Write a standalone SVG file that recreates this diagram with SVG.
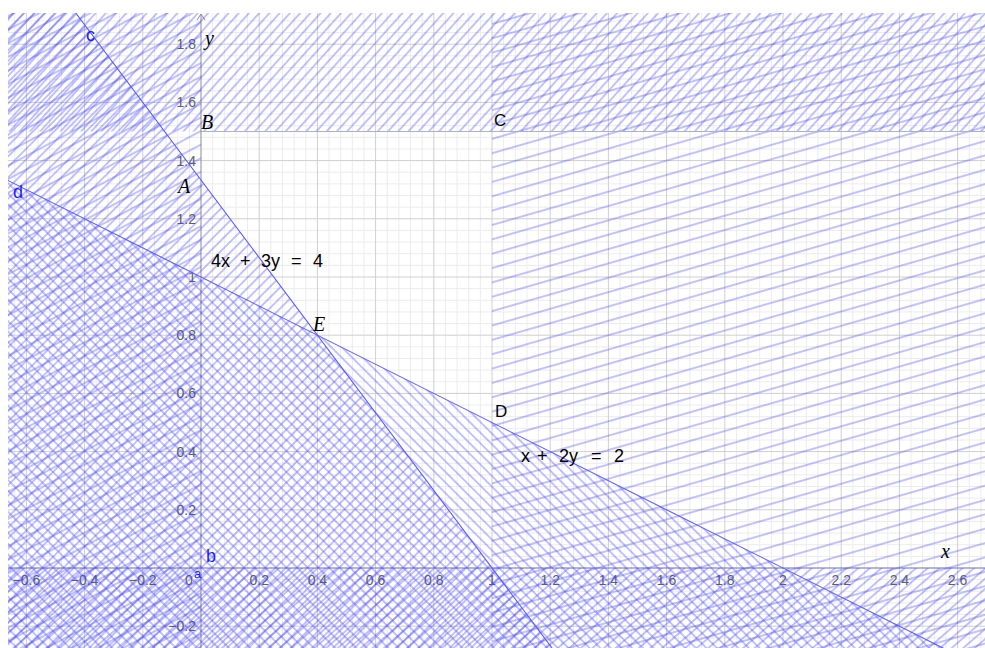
<svg xmlns="http://www.w3.org/2000/svg" width="985" height="648" viewBox="0 0 985 648">
<style>
.minor{stroke:#ececec;stroke-width:1;fill:none}
.major{stroke:#cfcfcf;stroke-width:1;fill:none}
.tick{font-family:"Liberation Sans",Arial,sans-serif;font-size:14px;fill:#606060}
.tickx{text-anchor:middle}
.ticky{text-anchor:end}
.hl{stroke:#4040ff;stroke-width:0.8;stroke-opacity:0.8}
.bline{stroke:#5a5aff;stroke-width:1.1;fill:none}
.pt{font-family:"Liberation Serif","Times New Roman",serif;font-style:italic;font-size:20px;fill:#000}
.ptu{font-family:"Liberation Sans",Arial,sans-serif;font-size:17px;fill:#000}
.lbl{font-family:"Liberation Sans",Arial,sans-serif;font-size:18px;fill:#1f1fff}
.eq{font-family:"Liberation Sans",Arial,sans-serif;font-size:18px;fill:#000}
</style>
<defs>
<clipPath id="view"><rect x="8" y="13" width="977" height="635"/></clipPath>
<pattern id="pTop" patternUnits="userSpaceOnUse" width="20" height="7.6" patternTransform="rotate(-48)"><line class="hl" x1="0" y1="3.8" x2="20" y2="3.8"/></pattern>
<pattern id="pC" patternUnits="userSpaceOnUse" width="20" height="7.5" patternTransform="rotate(-45)"><line class="hl" x1="0" y1="3.75" x2="20" y2="3.75"/></pattern>
<pattern id="pBot" patternUnits="userSpaceOnUse" width="20" height="7.6" patternTransform="rotate(-41)"><line class="hl" x1="0" y1="3.8" x2="20" y2="3.8"/></pattern>
<pattern id="pD" patternUnits="userSpaceOnUse" width="20" height="7.5" patternTransform="rotate(45)"><line class="hl" x1="0" y1="3.75" x2="20" y2="3.75"/></pattern>
<pattern id="pRight" patternUnits="userSpaceOnUse" width="40" height="13.8" patternTransform="rotate(-16)"><line class="hl" x1="0" y1="6.9" x2="40" y2="6.9"/></pattern>
<pattern id="pLeft" patternUnits="userSpaceOnUse" width="40" height="12" patternTransform="rotate(-28)"><line class="hl" x1="0" y1="6" x2="40" y2="6"/></pattern>
</defs>
<rect x="0" y="0" width="985" height="648" fill="#fff"/>
<g id="grid" clip-path="url(#view)">
<path class="minor" d="M14.76 13V648M38.04 13V648M49.68 13V648M61.32 13V648M72.96 13V648M96.24 13V648M107.88 13V648M119.52 13V648M131.16 13V648M154.44 13V648M166.08 13V648M177.72 13V648M189.36 13V648M212.64 13V648M224.28 13V648M235.92 13V648M247.56 13V648M270.84 13V648M282.48 13V648M294.12 13V648M305.76 13V648M329.04 13V648M340.68 13V648M352.32 13V648M363.96 13V648M387.24 13V648M398.88 13V648M410.52 13V648M422.16 13V648M445.44 13V648M457.08 13V648M468.72 13V648M480.36 13V648M503.64 13V648M515.28 13V648M526.92 13V648M538.56 13V648M561.84 13V648M573.48 13V648M585.12 13V648M596.76 13V648M620.04 13V648M631.68 13V648M643.32 13V648M654.96 13V648M678.24 13V648M689.88 13V648M701.52 13V648M713.16 13V648M736.44 13V648M748.08 13V648M759.72 13V648M771.36 13V648M794.64 13V648M806.28 13V648M817.92 13V648M829.56 13V648M852.84 13V648M864.48 13V648M876.12 13V648M887.76 13V648M911.04 13V648M922.68 13V648M934.32 13V648M945.96 13V648M969.24 13V648M980.88 13V648
M8 637.84H985M8 614.56H985M8 602.92H985M8 591.28H985M8 579.64H985M8 556.36H985M8 544.72H985M8 533.08H985M8 521.44H985M8 498.16H985M8 486.52H985M8 474.88H985M8 463.24H985M8 439.96H985M8 428.32H985M8 416.68H985M8 405.04H985M8 381.76H985M8 370.12H985M8 358.48H985M8 346.84H985M8 323.56H985M8 311.92H985M8 300.28H985M8 288.64H985M8 265.36H985M8 253.72H985M8 242.08H985M8 230.44H985M8 207.16H985M8 195.52H985M8 183.88H985M8 172.24H985M8 148.96H985M8 137.32H985M8 125.68H985M8 114.04H985M8 90.76H985M8 79.12H985M8 67.48H985M8 55.84H985M8 32.56H985M8 20.92H985"/>
<path class="major" d="M26.4 13V648M84.6 13V648M142.8 13V648M259.2 13V648M317.4 13V648M375.6 13V648M433.8 13V648M492 13V648M550.2 13V648M608.4 13V648M666.6 13V648M724.8 13V648M783 13V648M841.2 13V648M899.4 13V648M957.6 13V648
M8 626.2H985M8 509.8H985M8 451.6H985M8 393.4H985M8 335.2H985M8 277H985M8 218.8H985M8 160.6H985M8 102.4H985M8 44.2H985"/>
</g>
<g id="axes">
<line x1="201" y1="14" x2="201" y2="648" stroke="#8a8a9e" stroke-width="1"/>
<polyline points="197,20 201,14 205,20" fill="none" stroke="#8a8a9e" stroke-width="1"/>
<line x1="8" y1="568" x2="985" y2="568" stroke="#6c6cb4" stroke-width="1.2"/>
</g>
<g id="ticklabels" class="tick">
<text class="tickx" x="26.4" y="585">−0.6</text>
<text class="tickx" x="84.6" y="585">−0.4</text>
<text class="tickx" x="142.8" y="585">−0.2</text>
<text class="tickx" x="189" y="585">0</text>
<text class="tickx" x="259.2" y="585">0.2</text>
<text class="tickx" x="317.4" y="585">0.4</text>
<text class="tickx" x="375.6" y="585">0.6</text>
<text class="tickx" x="433.8" y="585">0.8</text>
<text class="tickx" x="492" y="585">1</text>
<text class="tickx" x="550.2" y="585">1.2</text>
<text class="tickx" x="608.4" y="585">1.4</text>
<text class="tickx" x="666.6" y="585">1.6</text>
<text class="tickx" x="724.8" y="585">1.8</text>
<text class="tickx" x="783" y="585">2</text>
<text class="tickx" x="841.2" y="585">2.2</text>
<text class="tickx" x="899.4" y="585">2.4</text>
<text class="tickx" x="957.6" y="585">2.6</text>
<text class="ticky" x="196" y="49.2">1.8</text>
<text class="ticky" x="196" y="107.4">1.6</text>
<text class="ticky" x="196" y="165.6">1.4</text>
<text class="ticky" x="196" y="223.8">1.2</text>
<text class="ticky" x="196" y="282">1</text>
<text class="ticky" x="196" y="340.2">0.8</text>
<text class="ticky" x="196" y="398.4">0.6</text>
<text class="ticky" x="196" y="456.6">0.4</text>
<text class="ticky" x="196" y="514.8">0.2</text>
<text class="ticky" x="196" y="631.2">−0.2</text>
</g>
<g id="hatching" clip-path="url(#view)">
<rect id="region-left" x="0" y="0" width="201" height="648" fill="url(#pLeft)"/>
<rect id="region-top" x="0" y="0" width="985" height="131.5" fill="url(#pTop)"/>
<rect id="region-right" x="492" y="0" width="493" height="648" fill="url(#pRight)"/>
<rect id="region-bottom" x="0" y="568" width="985" height="80" fill="url(#pBot)"/>
<polygon id="region-c" points="0,-88 985,1225.3 0,1225.3" fill="url(#pC)"/>
<polygon id="region-d" points="0,176.5 985,669 0,669" fill="url(#pD)"/>
</g>
<g id="connectors" clip-path="url(#view)">
<line id="line-c" class="bline" x1="0" y1="-88" x2="985" y2="1225.3"/>
<line id="line-d" class="bline" x1="0" y1="176.5" x2="985" y2="669"/>
<line id="line-top" x1="201" y1="131.5" x2="985" y2="131.5" stroke="#a8a8ff" stroke-width="1.2"/>
</g>
<g id="line-labels" class="lbl">
<text x="86" y="41">c</text>
<text x="13" y="198">d</text>
<text x="206" y="562">b</text>
<text x="194" y="578" font-size="13">a</text>
</g>
<g id="point-B"><text class="pt" x="201" y="129">B</text></g>
<g id="point-C"><text class="ptu" x="494" y="126">C</text></g>
<g id="point-A"><text class="pt" x="178" y="193">A</text></g>
<g id="point-E"><text class="pt" x="313" y="331">E</text></g>
<g id="point-D"><text class="ptu" x="495" y="417">D</text></g>
<g id="axis-labels">
<text class="pt" x="205" y="45">y</text>
<text class="pt" x="941" y="558">x</text>
</g>
<g id="equations" class="eq">
<text y="267"><tspan x="211">4x</tspan><tspan x="240">+</tspan><tspan x="261">3y</tspan><tspan x="291">=</tspan><tspan x="313">4</tspan></text>
<text y="462"><tspan x="521">x</tspan><tspan x="537">+</tspan><tspan x="559">2y</tspan><tspan x="591">=</tspan><tspan x="614">2</tspan></text>
</g>
</svg>
